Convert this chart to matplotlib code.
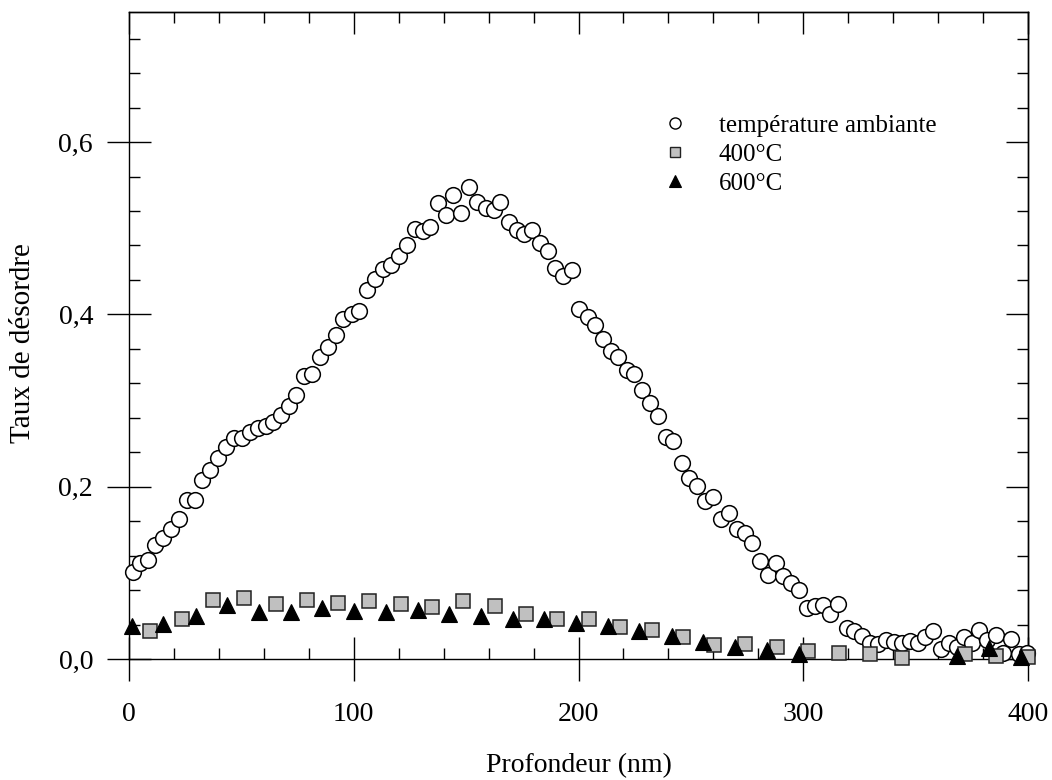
import matplotlib
matplotlib.use("Agg")
import matplotlib.pyplot as plt
from matplotlib.ticker import MultipleLocator, FixedLocator, FixedFormatter
from matplotlib.lines import Line2D

plt.rcParams['font.family'] = ['Liberation Serif', 'DejaVu Serif']

# Température ambiante (circles)
x_amb = [1.6, 4.9, 8.6, 11.6, 15.3, 18.7, 22.1, 25.7, 29.4, 32.6, 36.0, 39.5, 43.2, 46.7, 50.4,
         53.8, 57.3, 60.8, 64.2, 67.8, 71.2, 74.4, 78.0, 81.6, 85.0, 88.5, 92.1, 95.3, 99.2,
         102.5, 106.0, 109.6, 113.1, 116.7, 120.0, 123.6, 127.1, 130.7, 133.9, 137.5, 140.9,
         144.3, 147.7, 151.4, 155.0, 158.7, 162.3, 165.2, 168.9, 172.5, 175.9, 179.4, 182.9,
         186.3, 189.7, 193.2, 197.0, 200.4, 204.1, 207.5, 210.8, 214.3, 217.7, 221.4, 224.8,
         228.3, 231.8, 235.2, 238.8, 242.2, 245.9, 249.3, 252.9, 256.3, 259.7, 263.3, 266.8,
         270.4, 273.9, 277.3, 280.8, 284.2, 287.7, 291.1, 294.7, 298.2, 301.5, 305.2, 308.6,
         312.0, 315.6, 319.3, 322.7, 326.1, 329.7, 333.4, 336.8, 340.4, 343.8, 347.5, 350.9,
         354.3, 357.6, 361.3, 364.8, 368.3, 371.5, 375.1, 378.3, 381.9, 385.8, 389.0, 392.4,
         396.0, 399.4]
y_amb = [0.101, 0.111, 0.115, 0.132, 0.141, 0.151, 0.163, 0.184, 0.184, 0.208, 0.219, 0.233,
         0.246, 0.257, 0.257, 0.264, 0.268, 0.270, 0.275, 0.283, 0.294, 0.306, 0.328, 0.331,
         0.350, 0.362, 0.376, 0.395, 0.401, 0.404, 0.428, 0.441, 0.453, 0.457, 0.468, 0.480,
         0.499, 0.497, 0.501, 0.529, 0.515, 0.539, 0.518, 0.548, 0.530, 0.524, 0.521, 0.530,
         0.507, 0.498, 0.493, 0.498, 0.483, 0.474, 0.454, 0.445, 0.451, 0.406, 0.397, 0.388,
         0.372, 0.357, 0.350, 0.335, 0.331, 0.312, 0.297, 0.282, 0.258, 0.253, 0.228, 0.210,
         0.201, 0.183, 0.188, 0.163, 0.169, 0.151, 0.146, 0.135, 0.114, 0.0975, 0.112, 0.096,
         0.088, 0.080, 0.059, 0.061, 0.063, 0.052, 0.064, 0.036, 0.033, 0.027, 0.018, 0.017,
         0.022, 0.020, 0.018, 0.021, 0.018, 0.026, 0.032, 0.012, 0.018, 0.014, 0.025, 0.019,
         0.034, 0.022, 0.028, 0.007, 0.023, 0.006, 0.007]

# 400°C (squares)
x_400 = [9.3, 23.4, 37.5, 51.2, 65.3, 79.2, 93.1, 106.9, 120.9, 135.0, 148.7, 162.7, 176.6,
         190.6, 204.7, 218.6, 232.8, 246.3, 260.3, 274.1, 288.2, 302.0, 315.9, 329.8, 343.8,
         372.0, 385.8, 399.9]
y_400 = [0.033, 0.046, 0.068, 0.071, 0.064, 0.068, 0.065, 0.067, 0.064, 0.060, 0.067, 0.0615,
         0.052, 0.046, 0.046, 0.037, 0.034, 0.025, 0.016, 0.017, 0.014, 0.0097, 0.0066, 0.0058,
         0.001, 0.0058, 0.004, 0.002]

# 600°C (triangles)
x_600 = [1.5, 15.3, 29.8, 43.7, 58.0, 71.9, 86.0, 100.3, 114.3, 128.4, 142.5, 156.6, 170.7,
         184.8, 198.9, 213.0, 227.1, 241.4, 255.5, 269.6, 283.7, 298.1, 368.5, 382.8, 396.9]
y_600 = [0.038, 0.041, 0.050, 0.063, 0.055, 0.054, 0.059, 0.056, 0.055, 0.057, 0.052, 0.050,
         0.047, 0.047, 0.042, 0.038, 0.032, 0.027, 0.020, 0.0136, 0.010, 0.0058, 0.0035, 0.013,
         0.0027]

labels = ["température ambiante", "400°C", "600°C"]
x_ticks = [0, 100, 200, 300, 400]
x_ticklabels = ["0", "100", "200", "300", "400"]
y_ticks = [0.0, 0.2, 0.4, 0.6]
y_ticklabels = ["0,0", "0,2", "0,4", "0,6"]
x_label = "Profondeur (nm)"
y_label = "Taux de désordre"

fig = plt.figure(figsize=(10.52, 7.80), dpi=100)
ax = fig.add_axes([129/1052, 1-659/780, (1028-129)/1052, (659-12)/780])

ax.plot(x_amb, y_amb, linestyle='none', marker='o', ms=11.3, mfc='white', mec='black',
        mew=1.1, clip_on=False, zorder=3)
ax.plot(x_400, y_400, linestyle='none', marker='s', ms=10.3, mfc='#c0c0c0', mec='#222222',
        mew=1.1, clip_on=False, zorder=4)
ax.plot(x_600, y_600, linestyle='none', marker='^', ms=11.5, mfc='black', mec='black',
        mew=0.8, clip_on=False, zorder=5)

ax.set_xlim(0, 400)
ax.set_ylim(0, 0.751)

for s in ax.spines.values():
    s.set_linewidth(1.0)
    s.set_zorder(2)

ax.xaxis.set_major_locator(FixedLocator(x_ticks))
ax.xaxis.set_major_formatter(FixedFormatter(x_ticklabels))
ax.yaxis.set_major_locator(FixedLocator(y_ticks))
ax.yaxis.set_major_formatter(FixedFormatter(y_ticklabels))
ax.xaxis.set_minor_locator(MultipleLocator(20))
ax.yaxis.set_minor_locator(MultipleLocator(0.04))

ax.tick_params(which='major', direction='inout', length=31.7, width=1.0, labelsize=20,
               top=False, right=False)
ax.tick_params(axis='x', which='major', pad=15)
ax.tick_params(axis='y', which='major', pad=10)
ax.tick_params(which='minor', direction='in', length=7.9, width=1.0, top=True, right=True)

secx = ax.secondary_xaxis('top')
secx.xaxis.set_major_locator(FixedLocator(x_ticks))
secx.tick_params(which='major', direction='in', length=15.8, width=1.0, labeltop=False)
secx.xaxis.set_minor_locator(FixedLocator([]))
secy = ax.secondary_yaxis('right')
secy.yaxis.set_major_locator(FixedLocator(y_ticks))
secy.tick_params(which='major', direction='in', length=15.8, width=1.0, labelright=False)
secy.yaxis.set_minor_locator(FixedLocator([]))
for sa in (secx, secy):
    for s in sa.spines.values():
        s.set_linewidth(1.0)

ax.set_xlabel(x_label, fontsize=20, labelpad=19)
ax.set_ylabel(y_label, fontsize=21, labelpad=16)
ax.yaxis.label.set_y(0.489)

handles = [
    Line2D([], [], linestyle='none', marker='o', ms=8, mfc='white', mec='black', mew=1.0),
    Line2D([], [], linestyle='none', marker='s', ms=7.5, mfc='#c0c0c0', mec='#222222', mew=1.0),
    Line2D([], [], linestyle='none', marker='^', ms=8.5, mfc='black', mec='black', mew=0.8),
]
ax.legend(handles, labels, loc='upper left', bbox_to_anchor=(0.5934, 0.842), frameon=False,
          fontsize=18, borderpad=0, borderaxespad=0, handlelength=1.0, handletextpad=1.26,
          labelspacing=0.27)

fig.savefig("out.png", dpi=100)
